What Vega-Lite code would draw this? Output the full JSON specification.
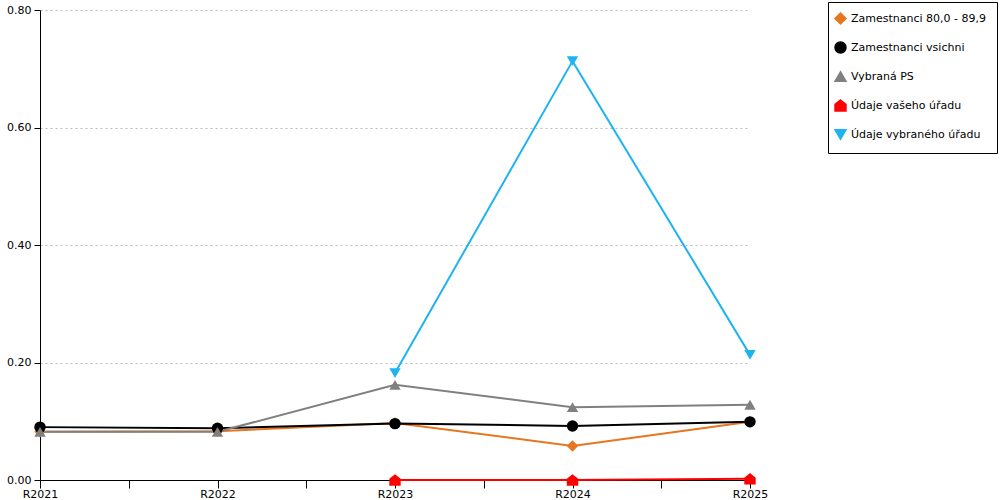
{
  "$schema": "https://vega.github.io/schema/vega-lite/v6.json",
  "autosize": {"type": "none"},
  "width": 710,
  "height": 470,
  "padding": {"left": 40, "top": 10, "right": 250, "bottom": 20},
  "background": "white",
  "config": {
    "font": "DejaVu Sans",
    "view": {"stroke": null},
    "axis": {
      "labelFontSize": 11,
      "labelColor": "#000000",
      "domainColor": "#000000",
      "tickColor": "#000000",
      "title": null
    },
    "legend": {"labelFontSize": 11, "labelColor": "#000000"}
  },
  "data": {
    "values": [
      {"rok": 2021, "serie": "Zamestnanci 80,0 - 89,9", "hodnota": 0.082},
      {"rok": 2022, "serie": "Zamestnanci 80,0 - 89,9", "hodnota": 0.083},
      {"rok": 2023, "serie": "Zamestnanci 80,0 - 89,9", "hodnota": 0.097},
      {"rok": 2024, "serie": "Zamestnanci 80,0 - 89,9", "hodnota": 0.058},
      {"rok": 2025, "serie": "Zamestnanci 80,0 - 89,9", "hodnota": 0.099},
      {"rok": 2021, "serie": "Zamestnanci vsichni", "hodnota": 0.090},
      {"rok": 2022, "serie": "Zamestnanci vsichni", "hodnota": 0.088},
      {"rok": 2023, "serie": "Zamestnanci vsichni", "hodnota": 0.096},
      {"rok": 2024, "serie": "Zamestnanci vsichni", "hodnota": 0.092},
      {"rok": 2025, "serie": "Zamestnanci vsichni", "hodnota": 0.099},
      {"rok": 2021, "serie": "Vybraná PS", "hodnota": 0.082},
      {"rok": 2022, "serie": "Vybraná PS", "hodnota": 0.082},
      {"rok": 2023, "serie": "Vybraná PS", "hodnota": 0.162},
      {"rok": 2024, "serie": "Vybraná PS", "hodnota": 0.124},
      {"rok": 2025, "serie": "Vybraná PS", "hodnota": 0.128},
      {"rok": 2023, "serie": "Údaje vašeho úřadu", "hodnota": 0.0},
      {"rok": 2024, "serie": "Údaje vašeho úřadu", "hodnota": 0.0},
      {"rok": 2025, "serie": "Údaje vašeho úřadu", "hodnota": 0.002},
      {"rok": 2023, "serie": "Údaje vybraného úřadu", "hodnota": 0.182},
      {"rok": 2024, "serie": "Údaje vybraného úřadu", "hodnota": 0.713},
      {"rok": 2025, "serie": "Údaje vybraného úřadu", "hodnota": 0.213}
    ]
  },
  "encoding": {
    "x": {
      "field": "rok",
      "type": "quantitative",
      "scale": {"domain": [2021, 2025], "nice": false, "zero": false},
      "axis": {
        "values": [2021, 2021.5, 2022, 2022.5, 2023, 2023.5, 2024, 2024.5, 2025],
        "labelExpr": "datum.value % 1 === 0 ? 'R' + datum.value : ''",
        "grid": false,
        "tickSize": 8,
        "labelPadding": 0,
        "labelOverlap": false,
        "labelFlush": false
      }
    },
    "y": {
      "field": "hodnota",
      "type": "quantitative",
      "scale": {"domain": [0, 0.8], "nice": false},
      "axis": {
        "values": [0, 0.2, 0.4, 0.6, 0.8],
        "format": ".2f",
        "tickSize": 6,
        "labelPadding": 3,
        "grid": true,
        "gridDash": [2, 3],
        "gridColor": "#bbbbbb",
        "gridOpacity": 1
      }
    }
  },
  "layer": [
    {
      "data": {"values": [{"rok": 2025}]},
      "mark": {"type": "rule", "color": "#000000", "strokeWidth": 1},
      "encoding": {"x": {"field": "rok", "type": "quantitative"}, "y": {"datum": 0}, "y2": {"datum": 0.8}}
    },
    {
      "mark": {"type": "line", "strokeWidth": 2},
      "encoding": {
        "color": {
          "field": "serie",
          "type": "nominal",
          "scale": {
            "domain": ["Zamestnanci 80,0 - 89,9", "Zamestnanci vsichni", "Vybraná PS", "Údaje vašeho úřadu", "Údaje vybraného úřadu"],
            "range": ["#E8761E", "#000000", "#808080", "#FF0000", "#1EB4F0"]
          },
          "legend": {
            "title": null,
            "orient": "none",
            "legendX": 788,
            "legendY": -8,
            "strokeColor": "#000000",
            "fillColor": "#ffffff",
            "padding": 10,
            "rowPadding": 12,
            "symbolSize": 120,
            "symbolOffset": -4,
            "labelOffset": 4,
            "labelLimit": 300
          }
        }
      }
    },
    {
      "mark": {"type": "point", "filled": true, "opacity": 1, "size": 130},
      "encoding": {
        "color": {"field": "serie", "type": "nominal"},
        "shape": {
          "field": "serie",
          "type": "nominal",
          "scale": {
            "domain": ["Zamestnanci 80,0 - 89,9", "Zamestnanci vsichni", "Vybraná PS", "Údaje vašeho úřadu", "Údaje vybraného úřadu"],
            "range": ["diamond", "circle", "triangle-up", "M0,-1L1,-0.2L1,1L-1,1L-1,-0.2Z", "triangle-down"]
          },
          "legend": {
            "title": null,
            "orient": "none",
            "legendX": 788,
            "legendY": -8,
            "strokeColor": "#000000",
            "fillColor": "#ffffff",
            "padding": 10,
            "rowPadding": 12,
            "symbolSize": 120,
            "symbolOffset": -4,
            "labelOffset": 4,
            "labelLimit": 300
          }
        }
      }
    }
  ]
}
